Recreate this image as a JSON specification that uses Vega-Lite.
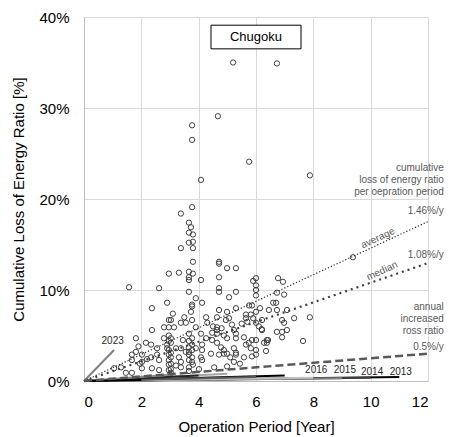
{
  "$schema": "https://vega.github.io/schema/vega-lite/v6.json",
  "width": 344,
  "height": 364,
  "autosize": "none",
  "padding": {"left": 84, "top": 17, "right": 22, "bottom": 56},
  "background": "white",
  "config": {
    "font": "Arial, Liberation Sans",
    "view": {"stroke": "#d9d9d9"},
    "text": {"font": "Arial, Liberation Sans"},
    "axis": {"gridColor": "#d9d9d9", "domainColor": "#bfbfbf", "ticks": false, "labelColor": "#000", "titleColor": "#000", "labelFontSize": 15, "titleFontSize": 15, "titleFontWeight": "normal", "labelFont": "Arial, Liberation Sans", "titleFont": "Arial, Liberation Sans"}
  },
  "datasets": {
    "pts": [
      {"x":5.2,"y":35.0},{"x":6.73,"y":34.9},{"x":4.67,"y":29.1},{"x":3.77,"y":28.1},{"x":3.77,"y":26.5},{"x":5.76,"y":24.1},{"x":4.08,"y":22.1},{"x":7.88,"y":22.6},{"x":3.77,"y":19.1},{"x":3.38,"y":18.4},{"x":3.66,"y":17.4},{"x":3.73,"y":16.9},{"x":3.66,"y":16.3},{"x":3.8,"y":16.1},{"x":3.66,"y":15.2},{"x":3.8,"y":15.3},{"x":3.38,"y":14.6},{"x":3.8,"y":14.6},{"x":3.8,"y":13.1},{"x":4.71,"y":13.1},{"x":4.71,"y":12.9},{"x":9.38,"y":13.6},
      {"x":2.96,"y":11.8},{"x":3.31,"y":11.9},{"x":3.66,"y":12.0},{"x":3.66,"y":11.4},{"x":3.8,"y":11.8},{"x":3.66,"y":11.1},{"x":4.08,"y":11.1},{"x":4.99,"y":12.4},{"x":5.3,"y":12.4},{"x":4.71,"y":11.4},{"x":1.57,"y":10.3},{"x":2.62,"y":10.2},{"x":3.66,"y":9.8},{"x":4.71,"y":10.2},{"x":4.71,"y":9.8},{"x":5.3,"y":9.8},{"x":6.0,"y":11.3},{"x":6.0,"y":10.5},{"x":6.0,"y":10.0},{"x":6.0,"y":9.4},{"x":5.9,"y":11.0},{"x":6.77,"y":11.3},{"x":6.94,"y":10.9},{"x":5.06,"y":9.2},{"x":3.9,"y":9.1},{"x":2.9,"y":8.6},{"x":3.77,"y":8.4},{"x":4.12,"y":8.6},{"x":3.77,"y":8.2},{"x":5.76,"y":8.3},{"x":5.86,"y":8.3},{"x":2.37,"y":8.0},{"x":3.73,"y":7.6},{"x":4.71,"y":7.8},{"x":4.99,"y":7.6},{"x":5.3,"y":8.0},{"x":5.65,"y":7.3},{"x":5.82,"y":7.3},{"x":6.0,"y":7.6},{"x":6.14,"y":8.0},{"x":6.7,"y":8.6},{"x":4.26,"y":7.0},{"x":4.64,"y":7.0},{"x":2.96,"y":6.7},{"x":3.03,"y":6.7},{"x":3.77,"y":6.7},{"x":3.38,"y":6.4},{"x":3.55,"y":6.4},{"x":4.95,"y":6.7},{"x":5.06,"y":6.9},{"x":5.65,"y":6.9},{"x":6.0,"y":6.4},{"x":6.45,"y":7.8},{"x":2.79,"y":5.9},{"x":2.96,"y":5.9},{"x":3.14,"y":5.9},{"x":2.37,"y":5.6},{"x":3.9,"y":5.9},{"x":4.64,"y":5.9},{"x":4.64,"y":5.6},{"x":5.16,"y":6.2},{"x":5.23,"y":5.6},{"x":6.2,"y":5.7},
      {"x":6.73,"y":9.7},{"x":6.98,"y":9.5},{"x":6.6,"y":8.6},{"x":6.73,"y":7.8},{"x":7.08,"y":7.8},{"x":7.33,"y":6.9},{"x":7.88,"y":7.0},{"x":6.91,"y":6.7},{"x":6.98,"y":6.4},{"x":6.21,"y":6.7},{"x":7.08,"y":5.6},{"x":6.73,"y":5.4},{"x":6.91,"y":5.4},{"x":6.91,"y":4.8},{"x":6.21,"y":5.6},{"x":6.38,"y":4.5},{"x":6.42,"y":4.5},{"x":6.35,"y":3.3},{"x":7.64,"y":4.4},
      {"x":2.79,"y":4.7},{"x":2.96,"y":5.0},{"x":3.03,"y":4.7},{"x":3.66,"y":5.2},{"x":4.08,"y":5.2},{"x":4.47,"y":5.3},{"x":4.64,"y":5.2},{"x":4.88,"y":5.0},{"x":4.99,"y":4.7},{"x":5.3,"y":5.2},{"x":5.3,"y":4.7},{"x":5.58,"y":4.8},{"x":5.86,"y":4.5},{"x":6.0,"y":4.5},{"x":6.28,"y":4.2},{"x":6.38,"y":4.2},{"x":1.81,"y":4.7},{"x":2.16,"y":4.2},{"x":2.34,"y":4.0},{"x":2.55,"y":3.6},{"x":2.9,"y":4.0},{"x":2.9,"y":3.6},{"x":2.96,"y":3.4},{"x":3.21,"y":3.6},{"x":3.38,"y":3.6},{"x":3.66,"y":3.7},{"x":3.77,"y":4.0},{"x":3.9,"y":3.6},{"x":4.12,"y":4.0},{"x":4.12,"y":3.4},{"x":4.64,"y":4.2},{"x":4.78,"y":3.7},{"x":4.88,"y":3.4},{"x":4.99,"y":3.0},{"x":5.23,"y":3.6},{"x":5.3,"y":3.1},{"x":5.82,"y":3.6},{"x":6.0,"y":3.4},
      {"x":1.81,"y":3.2},{"x":1.67,"y":2.9},{"x":1.67,"y":2.3},{"x":2.02,"y":2.9},{"x":2.02,"y":2.1},{"x":2.34,"y":2.6},{"x":2.62,"y":2.3},{"x":2.96,"y":2.9},{"x":2.96,"y":2.3},{"x":2.96,"y":1.8},{"x":2.96,"y":1.2},{"x":3.03,"y":2.6},{"x":3.03,"y":1.9},{"x":3.03,"y":1.3},{"x":3.31,"y":2.6},{"x":3.38,"y":2.1},{"x":3.38,"y":1.5},{"x":3.66,"y":2.9},{"x":3.77,"y":2.6},{"x":3.66,"y":2.3},{"x":3.77,"y":2.1},{"x":3.66,"y":1.5},{"x":4.08,"y":2.6},{"x":4.12,"y":2.3},{"x":4.43,"y":3.0},{"x":4.71,"y":2.9},{"x":4.88,"y":3.0},{"x":5.1,"y":2.6},{"x":5.3,"y":2.9},{"x":5.58,"y":2.6},{"x":5.86,"y":2.7},{"x":6.0,"y":2.9},
      {"x":1.05,"y":1.4},{"x":1.29,"y":1.5},{"x":1.46,"y":0.9},{"x":1.67,"y":0.9},{"x":1.95,"y":1.9},{"x":2.02,"y":1.4},{"x":2.37,"y":1.4},{"x":2.62,"y":1.2},{"x":3.0,"y":0.7},
      {"x":3.03,"y":3.1},{"x":3.03,"y":4.2},{"x":2.96,"y":4.4},{"x":3.66,"y":4.4},{"x":3.77,"y":4.7},{"x":3.66,"y":3.2},{"x":3.77,"y":3.4},{"x":3.8,"y":1.8},{"x":3.66,"y":1.1},{"x":3.03,"y":0.9},{"x":3.21,"y":1.7},{"x":4.01,"y":1.3},{"x":4.54,"y":1.5},{"x":4.99,"y":1.6},{"x":5.23,"y":2.1},{"x":5.44,"y":1.9},{"x":3.55,"y":3.2},{"x":3.45,"y":4.5},{"x":4.47,"y":4.5},{"x":5.65,"y":4.0},{"x":5.75,"y":4.2},{"x":4.26,"y":4.7},{"x":2.55,"y":2.9},{"x":2.2,"y":2.4},{"x":1.9,"y":3.8},{"x":3.1,"y":7.4},{"x":3.5,"y":7.0},{"x":4.3,"y":6.4},{"x":4.5,"y":6.0},{"x":4.8,"y":5.8},{"x":5.5,"y":6.3},{"x":5.7,"y":6.5},{"x":6.1,"y":6.0},{"x":5.9,"y":6.9}
    ],
    "refs": [
      {"s":"average","x":0,"y":0},{"s":"average","x":12,"y":17.52},
      {"s":"median","x":0,"y":0},{"s":"median","x":12,"y":12.96},
      {"s":"annual","x":0,"y":0},{"s":"annual","x":12,"y":3.0}
    ],
    "years": [
      {"yr":"2013","x":0,"y":0},{"yr":"2013","x":11,"y":0.45},
      {"yr":"2014","x":0,"y":0},{"yr":"2014","x":10,"y":0.35},
      {"yr":"2015","x":0,"y":0},{"yr":"2015","x":9,"y":0.3},
      {"yr":"2016","x":0,"y":0},{"yr":"2016","x":8,"y":0.35},
      {"yr":"2017","x":0,"y":0},{"yr":"2017","x":7,"y":0.6},
      {"yr":"2018","x":0,"y":0},{"yr":"2018","x":6,"y":0.45},
      {"yr":"2019","x":0,"y":0},{"yr":"2019","x":5,"y":0.8},
      {"yr":"2020","x":0,"y":0},{"yr":"2020","x":4,"y":0.6},
      {"yr":"2021","x":0,"y":0},{"yr":"2021","x":3,"y":0.7},
      {"yr":"2022","x":0,"y":0},{"yr":"2022","x":2,"y":0.1},
      {"yr":"2023","x":0,"y":0},{"yr":"2023","x":1.05,"y":3.4}
    ],
    "yearLabels": [
      {"t":"2016","x":8.1,"y":1.25},{"t":"2015","x":9.1,"y":1.25},{"t":"2014","x":10.05,"y":0.95},{"t":"2013","x":11.05,"y":0.95},{"t":"2023","x":1.0,"y":4.4}
    ],
    "notes": [
      {"t":["cumulative","loss of energy ratio","per oepration period"],"x":12.55,"y":23.4},
      {"t":"1.46%/y","x":12.55,"y":18.7},
      {"t":"1.08%/y","x":12.55,"y":13.8},
      {"t":["annual","increased","ross ratio"],"x":12.55,"y":8.1},
      {"t":"0.5%/y","x":12.55,"y":3.7}
    ],
    "slanted": [
      {"t":"average","x":10.25,"y":15.7},
      {"t":"median","x":10.4,"y":12.1}
    ],
    "box": [{"x":4.43,"x2":7.57,"y":39.1,"y2":36.5,"t":"Chugoku","xm":6.0,"ym":37.8}]
  },
  "layer": [
    {
      "data": {"name": "pts"},
      "mark": {"type": "point", "shape": "circle", "filled": false, "stroke": "#404040", "strokeWidth": 1, "size": 28, "opacity": 1},
      "encoding": {
        "x": {"field": "x", "type": "quantitative", "scale": {"domain": [0, 12], "nice": false}, "axis": {"values": [0,2,4,6,8,10,12], "title": "Operation Period [Year]", "labelPadding": 13, "titlePadding": 10, "grid": true}},
        "y": {"field": "y", "type": "quantitative", "scale": {"domain": [0, 40], "nice": false}, "axis": {"values": [0,10,20,30,40], "labelExpr": "datum.value + '%'", "title": "Cumulative Loss of Energy Ratio [%]", "labelPadding": 15, "titlePadding": 12, "grid": true}}
      }
    },
    {
      "data": {"name": "years"},
      "mark": {"type": "line", "strokeWidth": 2},
      "encoding": {
        "x": {"field": "x", "type": "quantitative"},
        "y": {"field": "y", "type": "quantitative"},
        "detail": {"field": "yr"},
        "color": {"field": "yr", "type": "nominal", "legend": null, "scale": {"domain": ["2013","2014","2015","2016","2017","2018","2019","2020","2021","2022","2023"], "range": ["#000000","#404040","#7f7f7f","#bfbfbf","#000000","#595959","#a6a6a6","#262626","#8c8c8c","#000000","#808080"]}},
        "strokeWidth": {"field": "yr", "type": "nominal", "legend": null, "scale": {"domain": ["2013","2014","2015","2016","2017","2018","2019","2020","2021","2022","2023"], "range": [2.5,2.5,2.5,2.5,1.5,1.5,1.5,1.5,2.5,1,0.6]}}
      }
    },
    {
      "data": {"name": "refs"},
      "transform": [{"filter": "datum.s === 'average'"}],
      "mark": {"type": "line", "color": "#262626", "strokeWidth": 1.2, "strokeDash": [1.2, 2]},
      "encoding": {"x": {"field": "x", "type": "quantitative"}, "y": {"field": "y", "type": "quantitative"}}
    },
    {
      "data": {"name": "refs"},
      "transform": [{"filter": "datum.s === 'median'"}],
      "mark": {"type": "line", "color": "#404040", "strokeWidth": 2.2, "strokeDash": [2, 4]},
      "encoding": {"x": {"field": "x", "type": "quantitative"}, "y": {"field": "y", "type": "quantitative"}}
    },
    {
      "data": {"name": "refs"},
      "transform": [{"filter": "datum.s === 'annual'"}],
      "mark": {"type": "line", "color": "#595959", "strokeWidth": 2.5, "strokeDash": [8, 4]},
      "encoding": {"x": {"field": "x", "type": "quantitative"}, "y": {"field": "y", "type": "quantitative"}}
    },
    {
      "data": {"name": "yearLabels"},
      "mark": {"type": "text", "fontSize": 10, "color": "#262626", "align": "center", "baseline": "middle"},
      "encoding": {"x": {"field": "x", "type": "quantitative"}, "y": {"field": "y", "type": "quantitative"}, "text": {"field": "t"}}
    },
    {
      "data": {"name": "notes"},
      "mark": {"type": "text", "fontSize": 10, "color": "#595959", "align": "right", "baseline": "middle", "lineHeight": 12},
      "encoding": {"x": {"field": "x", "type": "quantitative"}, "y": {"field": "y", "type": "quantitative"}, "text": {"field": "t"}}
    },
    {
      "data": {"name": "slanted"},
      "mark": {"type": "text", "fontSize": 10, "color": "#595959", "align": "center", "baseline": "middle", "angle": 335},
      "encoding": {"x": {"field": "x", "type": "quantitative"}, "y": {"field": "y", "type": "quantitative"}, "text": {"field": "t"}}
    },
    {
      "data": {"name": "box"},
      "mark": {"type": "rect", "fill": "white", "stroke": "#000", "strokeWidth": 1},
      "encoding": {"x": {"field": "x", "type": "quantitative"}, "x2": {"field": "x2"}, "y": {"field": "y", "type": "quantitative"}, "y2": {"field": "y2"}}
    },
    {
      "data": {"name": "box"},
      "mark": {"type": "text", "fontSize": 13, "color": "#000", "align": "center", "baseline": "middle"},
      "encoding": {"x": {"field": "xm", "type": "quantitative"}, "y": {"field": "ym", "type": "quantitative"}, "text": {"field": "t"}}
    }
  ]
}
